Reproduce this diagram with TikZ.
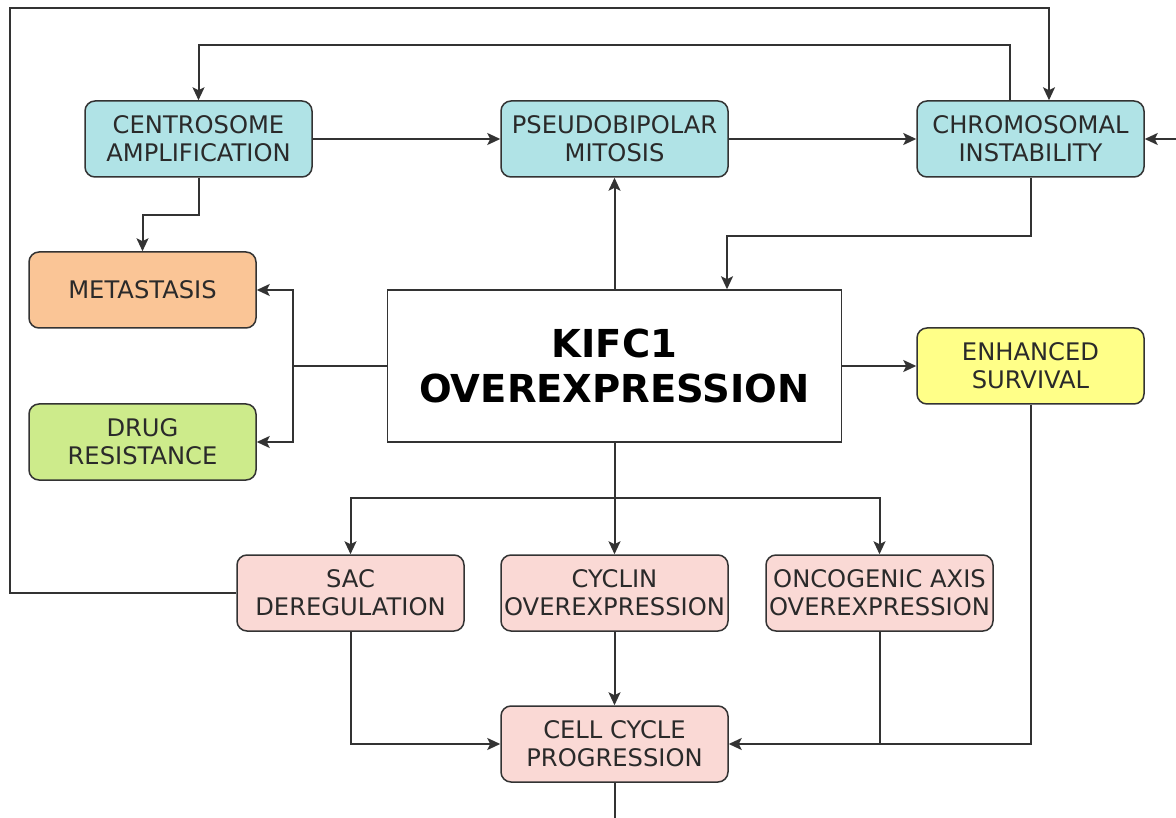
\documentclass[tikz,border=0pt]{standalone}
\usepackage{fontspec}
\setmainfont{DejaVu Sans}
\usetikzlibrary{arrows.meta}
\definecolor{teal1}{HTML}{B0E3E6}
\definecolor{orange1}{HTML}{FAC596}
\definecolor{green1}{HTML}{CDEB8B}
\definecolor{yellow1}{HTML}{FFFF88}
\definecolor{pink1}{HTML}{FAD9D5}
\definecolor{edge}{HTML}{333333}
\definecolor{txt}{HTML}{2A2A2A}
\tikzset{
  box/.style={draw=edge, line width=1.5pt, rounded corners=10pt, minimum width=227pt, minimum height=76pt,
    align=center, text=txt, font=\fontsize{24.2}{28}\selectfont, inner sep=0pt},
  mainbox/.style={draw=edge, line width=1.5pt, fill=white, minimum width=454pt, minimum height=152pt,
    align=center, text=black, font=\fontsize{38.5}{45}\selectfont\bfseries, inner sep=0pt},
  arr/.style={draw=edge, line width=2pt, -{Stealth[length=13pt,width=12pt,inset=3pt]}},
  ln/.style={draw=edge, line width=2pt},
}
\begin{document}
\begin{tikzpicture}[x=1pt,y=-1pt]
\useasboundingbox (0,0) rectangle (1176,818);
% nodes
\node[box, fill=teal1] (ca) at (198.5,139) {CENTROSOME\\AMPLIFICATION};
\node[box, fill=teal1] (pm) at (614.5,139) {PSEUDOBIPOLAR\\MITOSIS};
\node[box, fill=teal1] (ci) at (1030.5,139) {CHROMOSOMAL\\INSTABILITY};
\node[box, fill=orange1] (met) at (142.5,290) {METASTASIS};
\node[box, fill=green1] (drug) at (142.5,442) {DRUG\\RESISTANCE};
\node[mainbox] (kifc) at (614.5,366) {KIFC1\\OVEREXPRESSION};
\node[box, fill=yellow1] (es) at (1030.5,366) {ENHANCED\\SURVIVAL};
\node[box, fill=pink1] (sac) at (350.5,593) {SAC\\DEREGULATION};
\node[box, fill=pink1] (cyc) at (614.5,593) {CYCLIN\\OVEREXPRESSION};
\node[box, fill=pink1] (onc) at (879.5,593) {ONCOGENIC AXIS\\OVEREXPRESSION};
\node[box, fill=pink1] (ccp) at (614.5,744) {CELL CYCLE\\PROGRESSION};
% helper coordinates
\coordinate (tl) at (10,8);
\coordinate (tb) at (614,45);
\coordinate (re) at (1176,139);
\coordinate (jl) at (293,366);
\coordinate (jb) at (614.5,498);
\coordinate (be) at (614.5,818);
% connectors
\draw[arr] (sac.west) -| (tl) -| ([xshift=18.5pt]ci.north);
\draw[arr] ([xshift=-20.5pt]ci.north) |- (tb) -| (ca.north);
\draw[arr] (ca.east) -- (pm.west);
\draw[arr] (pm.east) -- (ci.west);
\draw[arr] (re) -- (ci.east);
\draw[arr] (ca.south) -- ++(0,37) -| (met.north);
\draw[ln] (kifc.west) -- (jl);
\draw[arr] (jl) |- (met.east);
\draw[arr] (jl) |- (drug.east);
\draw[arr] (kifc.north) -- (pm.south);
\draw[arr] (ci.south) -- ++(0,58) -| ([xshift=112.5pt]kifc.north);
\draw[arr] (kifc.east) -- (es.west);
\draw[arr] (es.south) |- (ccp.east);
\draw[ln] (kifc.south) -- (jb);
\draw[arr] (jb) -| (sac.north);
\draw[arr] (jb) -| (onc.north);
\draw[arr] (jb) -- (cyc.north);
\draw[arr] (sac.south) |- (ccp.west);
\draw[arr] (cyc.south) -- (ccp.north);
\draw[ln] (onc.south) -- (onc.south |- ccp.east);
\draw[ln] (ccp.south) -- (be);
\end{tikzpicture}
\end{document}
